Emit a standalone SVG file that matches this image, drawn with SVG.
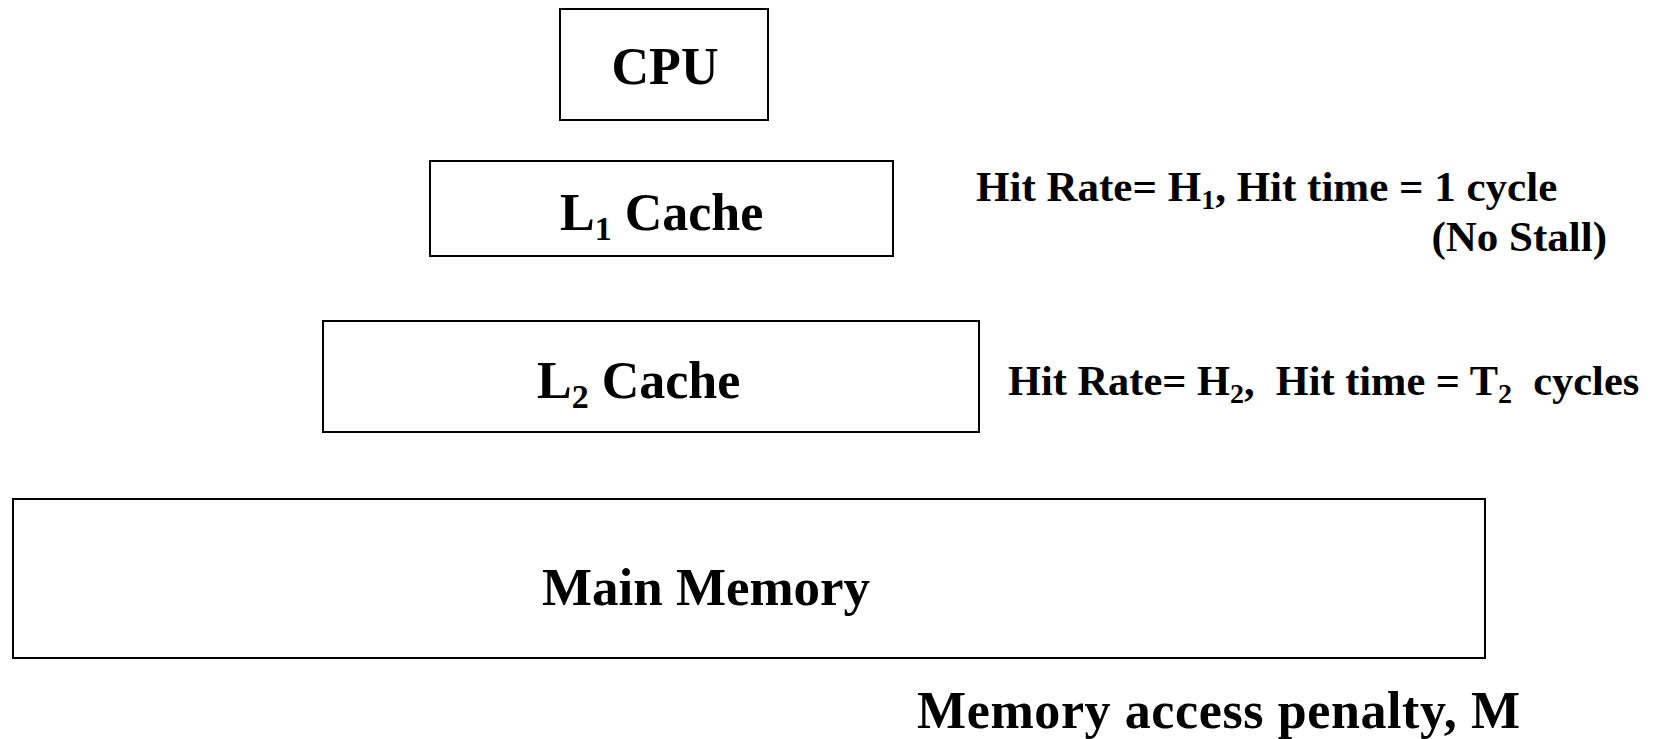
<svg xmlns="http://www.w3.org/2000/svg" width="1659" height="739" viewBox="0 0 1659 739">
<style>
.box{fill:#fff;stroke:#000;stroke-width:2}
text{font-family:"Liberation Serif","Times New Roman",serif;font-weight:bold;fill:#000}
.big{font-size:52px}
.mid{font-size:43px}
</style>
<rect width="1659" height="739" fill="#fff"/>
<g id="cpu"><rect class="box" x="560" y="9" width="208" height="111"/><text class="big" x="665" y="84" text-anchor="middle">CPU</text></g>
<g id="l1"><rect class="box" x="430" y="161" width="463" height="95"/><text class="big" x="560" y="230">L<tspan font-size="34" dy="10">1</tspan><tspan dy="-10"> Cache</tspan></text></g>
<g id="l2"><rect class="box" x="323" y="321" width="656" height="111"/><text class="big" x="537" y="398">L<tspan font-size="34" dy="10">2</tspan><tspan dy="-10"> Cache</tspan></text></g>
<g id="mem"><rect class="box" x="13" y="499" width="1472" height="159"/><text class="big" x="706" y="605" text-anchor="middle" style="font-size:53px" textLength="328">Main Memory</text></g>
<g id="labels">
<text class="mid" x="976" y="201">Hit Rate= H<tspan font-size="28" dy="8">1</tspan><tspan dy="-8">, Hit time = 1 cycle</tspan></text>
<text class="mid" x="1607" y="251" text-anchor="end">(No Stall)</text>
<text x="1008" y="395" style="white-space:pre;font-size:42.4px" xml:space="preserve">Hit Rate= H<tspan font-size="28" dy="8">2</tspan><tspan dy="-8">,  Hit time = T</tspan><tspan font-size="28" dy="8">2</tspan><tspan dy="-8">  cycles</tspan></text>
<text class="big" x="917" y="728" textLength="603">Memory access penalty, M</text>
</g>
<g id="connectors"></g>
</svg>
